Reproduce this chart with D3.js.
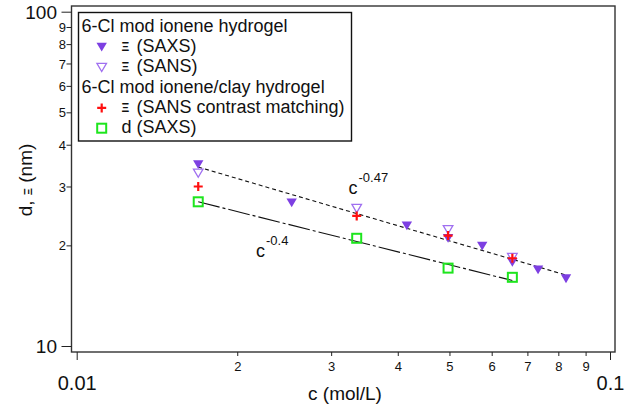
<!DOCTYPE html>
<html>
<head>
<meta charset="utf-8">
<script src="https://cdn.jsdelivr.net/npm/d3@7"></script>
<style>
  html, body { margin: 0; padding: 0; background: #fff; }
  svg { display: block; font-family: "Liberation Sans", Arial, sans-serif; }
</style>
</head>
<body>
<svg id="chart" width="644" height="407"></svg>
<script>
// ---- data ----
const saxsIoneneC = [0.0169, 0.0253, 0.0416, 0.0497, 0.0576, 0.0656, 0.0733, 0.0827];
const saxsIoneneXi = [34.9, 26.8, 22.9, 21.0, 19.9, 17.8, 16.9, 15.9];

const sansIoneneC = [0.0169, 0.0335, 0.0497, 0.0656];
const sansIoneneXi = [32.9, 25.8, 22.3, 18.4];

const sansClayC = [0.0169, 0.0335, 0.0497, 0.0656];
const sansClayXi = [30.0, 24.5, 21.4, 18.3];

const saxsClayC = [0.0169, 0.0335, 0.0497, 0.0656];
const saxsClayD = [27.0, 21.0, 17.1, 16.05];

// power-law fit lines (end points)
const fitUpperC = [0.0169, 0.0827];
const fitUpperD = [34.3, 16.3];
const fitLowerC = [0.0169, 0.0656];
const fitLowerD = [27.0, 15.7];

const xTicks = [0.01, 0.02, 0.03, 0.04, 0.05, 0.06, 0.07, 0.08, 0.09, 0.1];
const xTickLabels = ["0.01", "2", "3", "4", "5", "6", "7", "8", "9", "0.1"];
const yTicks = [10, 20, 30, 40, 50, 60, 70, 80, 90, 100];
const yTickLabels = ["10", "2", "3", "4", "5", "6", "7", "8", "9", "100"];

const legendRows = [
  { kind: "header", text: "6-Cl mod ionene hydrogel" },
  { kind: "tri", sym: "Ξ", text: "(SAXS)" },
  { kind: "triOpen", sym: "Ξ", text: "(SANS)" },
  { kind: "header", text: "6-Cl mod ionene/clay hydrogel" },
  { kind: "plus", sym: "Ξ", text: "(SANS contrast matching)" },
  { kind: "square", sym: "d", text: "(SAXS)" }
];

// ---- styling ----
const purple = "#7d3fe2";
const lightPurple = "#a070f0";
const red = "#ff1010";
const green = "#1de51d";

const svg = d3.select("#chart");

const x = d3.scaleLog().domain([0.01, 0.1]).range([76.7, 610]);
const y = d3.scaleLog().domain([10, 100]).range([346, 11.7]);

const frame = { left: 71.5, top: 6, right: 615, bottom: 352 };

// frame
svg.append("rect")
  .attr("x", frame.left).attr("y", frame.top)
  .attr("width", frame.right - frame.left).attr("height", frame.bottom - frame.top)
  .attr("fill", "none").attr("stroke", "#333").attr("stroke-width", 1.4);

// ---- y axis ----
const isMajorY = v => v === 10 || v === 100;
const yAxis = d3.axisLeft(y).tickValues(yTicks)
  .tickFormat((d, i) => yTickLabels[i]).tickSizeOuter(0);
const gy = svg.append("g").attr("transform", `translate(${frame.left},0)`).call(yAxis);
gy.select(".domain").remove();
gy.selectAll(".tick line")
  .attr("x2", d => isMajorY(d) ? -10 : -5)
  .attr("stroke", "#222");
gy.selectAll(".tick text")
  .attr("x", d => isMajorY(d) ? -14.5 : -5.5)
  .attr("dy", "0.35em")
  .attr("fill", "#111")
  .style("font-size", d => isMajorY(d) ? "19px" : "13px")
  .style("font-family", "'Liberation Sans', Arial, sans-serif");

// ---- x axis ----
const isMajorX = v => Math.abs(v - 0.01) < 1e-9 || Math.abs(v - 0.1) < 1e-9;
const xAxis = d3.axisBottom(x).tickValues(xTicks)
  .tickFormat((d, i) => xTickLabels[i]).tickSizeOuter(0);
const gx = svg.append("g").attr("transform", `translate(0,${frame.bottom})`).call(xAxis);
gx.select(".domain").remove();
gx.selectAll(".tick line")
  .attr("y2", d => isMajorX(d) ? 8 : 4)
  .attr("stroke", "#222");
gx.selectAll(".tick text")
  .attr("y", d => isMajorX(d) ? 38 : 19)
  .attr("dy", 0)
  .attr("fill", "#111")
  .style("font-size", d => isMajorX(d) ? "20px" : "13px")
  .style("font-family", "'Liberation Sans', Arial, sans-serif");

// axis titles
svg.append("text")
  .attr("x", 345).attr("y", 400)
  .attr("text-anchor", "middle")
  .style("font-size", "19px").attr("fill", "#111")
  .text("c (mol/L)");

const yt = svg.append("text")
  .attr("transform", "translate(32,180) rotate(-90)")
  .attr("text-anchor", "middle")
  .style("font-size", "19px").attr("fill", "#111");
yt.append("tspan").text("d, ");
yt.append("tspan").style("font-size", "11px").style("font-weight", "bold").text("Ξ");
yt.append("tspan").text(" (nm)");

// ---- fit lines ----
const line = d3.line().x(d => x(d[0])).y(d => y(d[1]));
svg.append("path")
  .datum(d3.zip(fitUpperC, fitUpperD))
  .attr("d", line).attr("fill", "none")
  .attr("stroke", "#111").attr("stroke-width", 1.1)
  .attr("stroke-dasharray", "4,3");
svg.append("path")
  .datum(d3.zip(fitLowerC, fitLowerD))
  .attr("d", line).attr("fill", "none")
  .attr("stroke", "#111").attr("stroke-width", 1.1)
  .attr("stroke-dasharray", "22,3,3,3");

// ---- markers ----
const triPath = "M-5.2,-4.3L5.2,-4.3L0,4.5Z";
function drawMarker(g, kind) {
  if (kind === "tri") {
    g.append("path").attr("d", triPath).attr("fill", purple);
  } else if (kind === "triOpen") {
    g.append("path").attr("d", "M-4.8,-4L4.8,-4L0,4.2Z")
      .attr("fill", "none").attr("stroke", lightPurple).attr("stroke-width", 1.3);
  } else if (kind === "plus") {
    g.append("path").attr("d", "M-4.5,0H4.5M0,-4.5V4.5")
      .attr("stroke", red).attr("stroke-width", 2.2);
  } else if (kind === "square") {
    g.append("rect").attr("x", -4.5).attr("y", -4.5).attr("width", 9).attr("height", 9)
      .attr("fill", "none").attr("stroke", green).attr("stroke-width", 2);
  }
}
function series(cs, vs, kind) {
  const g = svg.append("g");
  d3.zip(cs, vs).forEach(([c, v]) => {
    const m = g.append("g").attr("transform", `translate(${x(c)},${y(v)})`);
    drawMarker(m, kind);
  });
}
series(saxsIoneneC, saxsIoneneXi, "tri");
series(sansIoneneC, sansIoneneXi, "triOpen");
series(sansClayC, sansClayXi, "plus");
series(saxsClayC, saxsClayD, "square");

// ---- annotations ----
function powerLabel(px, py, exp) {
  const t = svg.append("text").attr("x", px).attr("y", py)
    .style("font-size", "18px").attr("fill", "#111");
  t.append("tspan").text("c");
  t.append("tspan").attr("dx", 1).attr("dy", -12).style("font-size", "13px").text(exp);
}
powerLabel(348.5, 193.5, "-0.47");
powerLabel(256, 256.5, "-0.4");

// ---- legend ----
const lg = svg.append("g");
lg.append("rect").attr("x", 78.5).attr("y", 12.5).attr("width", 273).attr("height", 128.5)
  .attr("fill", "#fff").attr("stroke", "#111").attr("stroke-width", 1.4);
legendRows.forEach((r, i) => {
  const base = 31.7 + i * 20.3;
  if (r.kind === "header") {
    lg.append("text").attr("x", 81.5).attr("y", base)
      .style("font-size", "18px").attr("fill", "#111").text(r.text);
  } else {
    const m = lg.append("g").attr("transform", `translate(101.7,${base - 5})`);
    drawMarker(m, r.kind);
    if (r.sym === "Ξ") {
      lg.append("text").attr("x", 121.5).attr("y", base - 1)
        .style("font-size", "12px").style("font-weight", "bold").attr("fill", "#111").text(r.sym);
    } else {
      lg.append("text").attr("x", 121.5).attr("y", base)
        .style("font-size", "18px").attr("fill", "#111").text(r.sym);
    }
    lg.append("text").attr("x", 136.5).attr("y", base)
      .style("font-size", "18px").attr("fill", "#111").text(r.text);
  }
});
</script>
</body>
</html>
